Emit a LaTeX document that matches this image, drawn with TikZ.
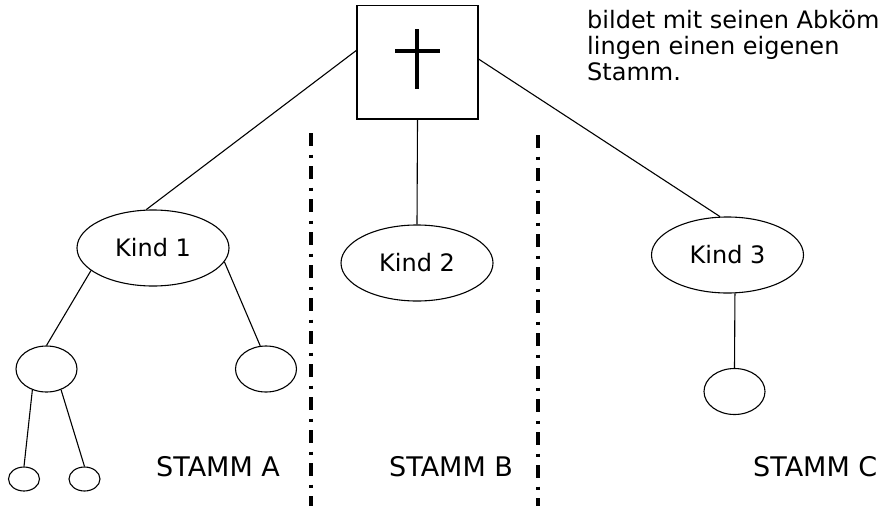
\documentclass[tikz,border=0pt]{standalone}
\usepackage{fontspec}
\setmainfont{DejaVu Sans}
\usetikzlibrary{shapes.geometric}
\begin{document}
\begin{tikzpicture}[x=1pt,y=1pt,
  thinline/.style={line width=1.1pt},
  kindbox/.style={draw,ellipse,line width=1.1pt,minimum width=152pt,minimum height=76pt,inner sep=0pt,font=\fontsize{24}{26}\selectfont},
  leafbox/.style={draw,ellipse,line width=1.1pt,minimum width=61pt,minimum height=46pt,inner sep=0pt},
  tinybox/.style={draw,ellipse,line width=1.1pt,minimum width=31pt,minimum height=24pt,inner sep=0pt},
  stammlabel/.style={anchor=west,inner sep=0pt,font=\fontsize{27}{30}\selectfont},
  noteline/.style={anchor=base west,inner sep=0pt,font=\fontsize{24}{26}\selectfont},
  divider/.style={line width=3.5pt,dash pattern=on 13pt off 8.5pt on 3pt off 8.5pt}
]
\useasboundingbox (0,0) rectangle (880,-506);
% root box with cross
\node[draw,line width=1.3pt,minimum width=121pt,minimum height=113.5pt,inner sep=0pt] (root) at (417.5,-62.3) {};
\coordinate (crosstop) at (417,-29);
\coordinate (crossbot) at (417,-89);
\coordinate (crossl) at (395,-51);
\coordinate (crossr) at (440,-51);
\draw[line width=4pt] (crosstop) -- (crossbot);
\draw[line width=4pt] (crossl) -- (crossr);
% children
\node[kindbox] (k1) at (153,-248) {Kind 1};
\node[kindbox] (k2) at (417,-263) {Kind 2};
\node[kindbox] (k3) at (727.5,-255) {Kind 3};
\node[leafbox] (a1) at (46.5,-369) {};
\node[leafbox] (a2) at (266,-369) {};
\node[tinybox] (b1) at (24,-479) {};
\node[tinybox] (b2) at (84.5,-479) {};
\node[leafbox] (c1) at (734.5,-391.5) {};
% connectors
\draw[thinline] (root.169.4) -- (k1.100.4);
\draw[thinline] (root.south) -- (k2.north);
\draw[thinline] (root.3.1) -- (k3.101.5);
\draw[thinline] (k1.200.7) -- (a1.north);
\draw[thinline] (k1.-11.5) -- (a2.104);
\draw[thinline] (a1.236.6) -- (b1.north);
\draw[thinline] (a1.305) -- (b2.north);
\draw[thinline] (k3.281) -- (c1.north);
% dividers
\coordinate (d1top) at (311,-133);
\coordinate (d1bot) at (311,-506);
\coordinate (d2top) at (538,-135);
\coordinate (d2bot) at (538,-506);
\draw[divider] (d1top) -- (d1bot);
\draw[divider] (d2top) -- (d2bot);
% labels
\node[stammlabel] (sa) at (156,-467) {STAMM A};
\node[stammlabel] (sb) at (389,-467) {STAMM B};
\node[stammlabel] (sc) at (753,-467) {STAMM C};
\node[noteline] (note1) at (587,-28) {bildet mit seinen Abköm};
\node[noteline] (note2) at (587,-54) {lingen einen eigenen};
\node[noteline] (note3) at (587,-80) {Stamm.};
\end{tikzpicture}
\end{document}
